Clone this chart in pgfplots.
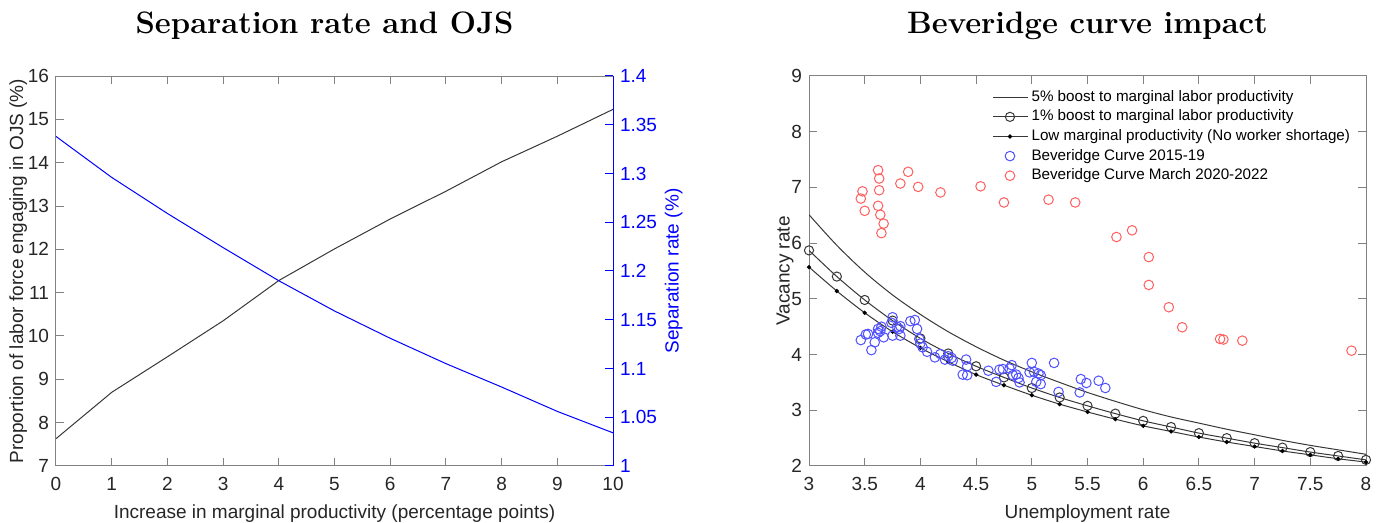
\documentclass[border=0pt]{standalone}
\usepackage{fontspec}
\newfontfamily\arial{Liberation Sans}
\usepackage{pgfplots}
\pgfplotsset{compat=1.18}

\definecolor{axgray}{RGB}{130,130,130}
\definecolor{txt}{RGB}{38,38,38}
\definecolor{ln}{RGB}{55,55,55}
\definecolor{bscat}{RGB}{80,80,255}
\definecolor{rscat}{RGB}{255,95,95}

\pgfplotsset{
  mstyle/.style={
    scale only axis, width=278.5pt, height=195pt,
    axis line style={axgray, line width=0.5pt},
    tick style={axgray, line width=0.5pt},
    major tick length=4pt, tick align=inside,
    ticklabel style={font=\arial\fontsize{9.5}{11}\selectfont, text=txt},
    xticklabel style={yshift=-2pt},
    label style={font=\arial\fontsize{9.5}{11}\selectfont, text=txt},
    /pgf/number format/assume math mode=true,
    title style={font=\fontsize{15.5}{18}\selectfont\bfseries, at={(0.5,1)}, anchor=center, yshift=19pt},
  }
}

\begin{document}
\begin{tikzpicture}
\useasboundingbox (0,0) rectangle (690.5pt,261.5pt);

% left: OJS share and separation rate
\begin{axis}[mstyle, at={(28pt,28.5pt)}, anchor=south west,
  xmin=0, xmax=10, ymin=7, ymax=16,
  xtick={0,...,10}, ytick={7,...,16}, ytick pos=left,
  xlabel={Increase in marginal productivity (percentage points)},
  ylabel={Proportion of labor force engaging in OJS (\%)},
  ylabel style={yshift=-6.5pt},
  title={Separation rate and OJS}, title style={xshift=-5pt}]
\addplot[ln, line width=0.5pt] coordinates {
  (0,7.63) (1,8.70) (2,9.52) (3,10.35) (4,11.28) (5,12.01)
  (6,12.70) (7,13.34) (8,14.02) (9,14.61) (10,15.23)};
\end{axis}
\begin{axis}[mstyle, at={(28pt,28.5pt)}, anchor=south west,
  xmin=0, xmax=10, ymin=1, ymax=1.4,
  axis x line=none, axis y line*=right,
  ytick={1,1.05,1.1,1.15,1.2,1.25,1.3,1.35,1.4},
  y axis line style={blue}, ytick style={blue},
  yticklabel style={text=blue},
  ylabel={Separation rate (\%)}, ylabel style={text=blue, yshift=3pt}]
\addplot[blue, line width=0.5pt] coordinates {
  (0,1.338) (1,1.296) (2,1.259) (3,1.224) (4,1.190) (5,1.159)
  (6,1.131) (7,1.105) (8,1.081) (9,1.056) (10,1.034)};
\end{axis}

% right: Beveridge curve
\begin{axis}[mstyle, at={(404.5pt,28.5pt)}, anchor=south west,
  xmin=3, xmax=8, ymin=2, ymax=9,
  xtick={3,3.5,...,8}, ytick={2,...,9},
  xlabel={Unemployment rate}, ylabel={Vacancy rate},
  ylabel style={yshift=-8pt},
  title={Beveridge curve impact},
  legend cell align=left,
  legend style={at={(0.99,0.985)}, anchor=north east, draw=none, fill=none,
    font=\arial\fontsize{7.6}{9}\selectfont, row sep=-1.2pt}]
\addplot[ln, line width=0.5pt, smooth, tension=0.5] coordinates {
  (3.00,6.51) (3.25,5.96) (3.50,5.48) (3.75,5.07) (4.00,4.72) (4.25,4.41)
  (4.50,4.14) (4.75,3.90) (5.00,3.69) (5.25,3.50) (5.50,3.32) (5.75,3.16)
  (6.00,3.01) (6.25,2.88) (6.50,2.77) (6.75,2.66) (7.00,2.56) (7.25,2.46)
  (7.50,2.37) (7.75,2.29) (8.00,2.21)};
\addlegendentry{5\% boost to marginal labor productivity}
\addplot[ln, line width=0.5pt, smooth, tension=0.5, mark=o, mark size=2.3pt, mark options={solid, ln}] coordinates {
  (3.00,5.87) (3.25,5.40) (3.50,4.98) (3.75,4.61) (4.00,4.29) (4.25,4.02)
  (4.50,3.79) (4.75,3.59) (5.00,3.40) (5.25,3.23) (5.50,3.08) (5.75,2.94)
  (6.00,2.81) (6.25,2.70) (6.50,2.59) (6.75,2.50) (7.00,2.41) (7.25,2.33)
  (7.50,2.25) (7.75,2.18) (8.00,2.11)};
\addlegendentry{1\% boost to marginal labor productivity}
\addplot[ln, line width=0.5pt, smooth, tension=0.5, mark=*, mark size=0.8pt, mark options={black}] coordinates {
  (3.00,5.57) (3.25,5.14) (3.50,4.75) (3.75,4.41) (4.00,4.12) (4.25,3.87)
  (4.50,3.64) (4.75,3.45) (5.00,3.27) (5.25,3.11) (5.50,2.97) (5.75,2.84)
  (6.00,2.72) (6.25,2.62) (6.50,2.52) (6.75,2.43) (7.00,2.35) (7.25,2.27)
  (7.50,2.20) (7.75,2.13) (8.00,2.07)};
\addlegendentry{Low marginal productivity (No worker shortage)}
\addplot[only marks, mark=o, mark size=2.4pt, bscat, line width=0.5pt] coordinates {
  (3.465,4.26) (3.51,4.36) (3.53,4.37) (3.56,4.08) (3.59,4.22) (3.62,4.46)
  (3.62,4.39) (3.64,4.42) (3.65,4.50) (3.67,4.31) (3.75,4.67) (3.74,4.57)
  (3.75,4.34) (3.79,4.50) (3.81,4.46) (3.82,4.51) (3.82,4.34) (3.91,4.60)
  (3.95,4.62) (3.97,4.46) (3.99,4.28) (4.00,4.20) (4.02,4.13) (4.06,4.05)
  (4.13,3.95) (4.18,4.01) (4.22,3.91) (4.25,3.97) (4.29,3.89) (4.28,3.94)
  (4.38,3.64) (4.41,3.91) (4.42,3.79) (4.42,3.63) (4.61,3.71) (4.68,3.51)
  (4.71,3.73) (4.74,3.74) (4.80,3.75) (4.82,3.81) (4.83,3.63) (4.86,3.64)
  (4.88,3.58) (4.89,3.50) (5.00,3.85) (4.98,3.68) (5.02,3.69) (5.04,3.51)
  (5.06,3.66) (5.08,3.63) (5.08,3.47) (5.20,3.85) (5.24,3.33) (5.44,3.56)
  (5.43,3.32) (5.49,3.49) (5.60,3.53) (5.66,3.40)};
\addlegendentry{Beveridge Curve 2015-19}
\addplot[only marks, mark=o, mark size=2.4pt, rscat, line width=0.5pt] coordinates {
  (3.465,6.80) (3.48,6.93) (3.50,6.58) (3.62,7.31) (3.63,7.16) (3.63,6.95)
  (3.62,6.67) (3.64,6.51) (3.67,6.35) (3.65,6.18) (3.82,7.07) (3.89,7.28)
  (3.98,7.01) (4.18,6.91) (4.54,7.02) (4.75,6.73) (5.15,6.78) (5.39,6.73)
  (5.76,6.11) (5.90,6.23) (6.05,5.75) (6.05,5.25) (6.23,4.85) (6.35,4.49)
  (6.69,4.28) (6.72,4.27) (6.89,4.25) (7.87,4.07)};
\addlegendentry{Beveridge Curve March 2020-2022}
\end{axis}
\end{tikzpicture}
\end{document}
